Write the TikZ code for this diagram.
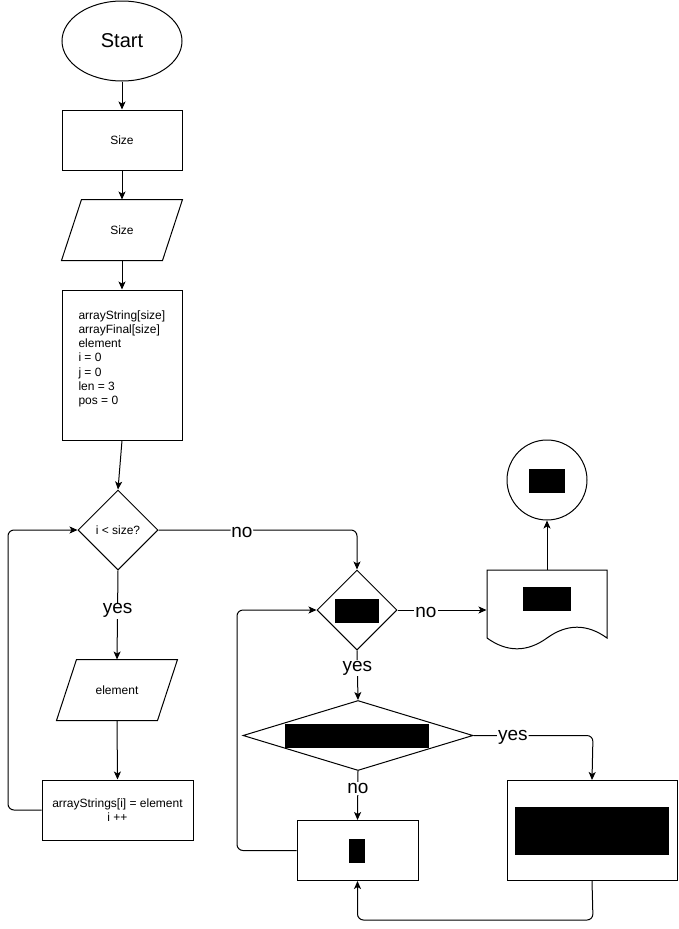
\documentclass[tikz,border=0pt]{standalone}
\usepackage{fontspec}
\setmainfont{Liberation Sans}
\usetikzlibrary{shapes.geometric,arrows.meta}
\begin{document}
\begin{tikzpicture}[x=1pt,y=-1pt,
  line width=1pt,
  every node/.style={font=\fontsize{12}{14.2}\selectfont},
  box/.style={draw,rectangle,inner sep=0pt},
  holder/.style={rectangle,inner sep=0pt,minimum width=120pt,minimum height=60pt},
  dia/.style={draw,diamond,inner sep=0pt},
  redact/.style={fill=black,inner sep=0pt},
  lbl/.style={fill=white,inner sep=1pt,yshift=-2pt,font=\fontsize{19}{22}\selectfont},
  arr/.style={-{Stealth[length=8pt,width=7pt,inset=2pt]}},
  rc/.style={rounded corners=6pt}]
\useasboundingbox (0,0) rectangle (678,929);

% nodes
\node[draw,ellipse,minimum width=120pt,minimum height=80pt,inner sep=0pt,font=\fontsize{20}{24}\selectfont] (start) at (122,41) {Start};
\node[box,minimum width=120pt,minimum height=60pt] (size1) at (122,140) {Size};
\node[holder] (size2) at (122,230) {Size};
\draw ([xshift=20pt]size2.north west) -- (size2.north east) -- ([xshift=-20pt]size2.south east) -- (size2.south west) -- cycle;
\node[box,minimum width=120pt,minimum height=150pt] (vars) at (122,365) {};
\node[anchor=north west,inner sep=0pt,align=left] (varstext) at (78,310) {arrayString[size]\\arrayFinal[size]\\element\\i = 0\\j = 0\\len = 3\\pos = 0};
\node[dia,minimum width=80pt,minimum height=80pt] (d1) at (118,530) {i {\textless} size?};
\node[holder] (el) at (117,690) {element};
\draw ([xshift=20pt]el.north west) -- (el.north east) -- ([xshift=-20pt]el.south east) -- (el.south west) -- cycle;
\node[box,minimum width=151pt,minimum height=60pt,align=center] (asg) at (117.5,810) {arrayStrings[i] = element\\i ++};

\node[dia,minimum width=80pt,minimum height=80pt] (d2) at (357,610) {};
\node[redact,minimum width=44pt,minimum height=24pt] (r2) at (357,611) {};
\node[holder,minimum width=120pt,minimum height=80pt] (doc) at (547,610) {};
\draw (487,570) -- (607,570) -- (607,638) .. controls (587,623.6) and (567,623.6) .. (547,638) .. controls (527,652.4) and (507,652.4) .. (487,638) -- cycle;
\node[redact,minimum width=48pt,minimum height=24pt] (r3) at (547,599) {};
\node[draw,circle,minimum size=80pt,inner sep=0pt] (endc) at (547,480) {};
\node[redact,minimum width=36pt,minimum height=24pt] (r1) at (547,481) {};
\node[dia,minimum width=230pt,minimum height=70pt] (d3) at (358,735.5) {};
\node[redact,minimum width=144pt,minimum height=24pt] (r4) at (357,736) {};
\node[box,minimum width=170pt,minimum height=100pt] (big) at (592,830.5) {};
\node[redact,minimum width=154pt,minimum height=48pt] (r5) at (592,831) {};
\node[box,minimum width=121pt,minimum height=60pt] (small) at (357.5,850.5) {};
\node[redact,minimum width=16pt,minimum height=24pt] (r6) at (357,851) {};

% connectors
\draw[arr] (start) -- (size1);
\draw[arr] (size1) -- (size2);
\draw[arr] (size2) -- (vars);
\draw[arr] (vars.south) -- (d1.north);
\draw[arr] (d1.south) -- node[lbl,pos=0.43] (lyes1) {yes} (el.north);
\draw[arr] (el.south) -- (asg.north);
\draw[arr,rc] (asg.west) -- (8,810) -- (8,530) -- (d1.west);
\draw[arr,rc] (d1.east) -- node[lbl,pos=0.42] (lno1) {no} (357,530) -- (d2.north);
\draw[arr] (d2.east) -- node[lbl,pos=0.32] (lno2) {no} (doc.west);
\draw[arr] (doc.north) -- (endc.south);
\draw[arr] (d2.south) -- node[lbl,pos=0.32] (lyes2) {yes} (d3.north);
\draw[arr,rc] (d3.east) -- node[lbl,pos=0.33] (lyes3) {yes} (593,735.5) -- (big.north);
\draw[arr] (d3.south) -- node[lbl,pos=0.32] (lno3) {no} (small.north);
\draw[arr,rc] (small.west) -- (237,850.5) -- (237,610) -- (d2.west);
\draw[arr,rc] (big.south) -- (593,920) -- (357.5,920) -- (small.south);
\end{tikzpicture}
\end{document}
